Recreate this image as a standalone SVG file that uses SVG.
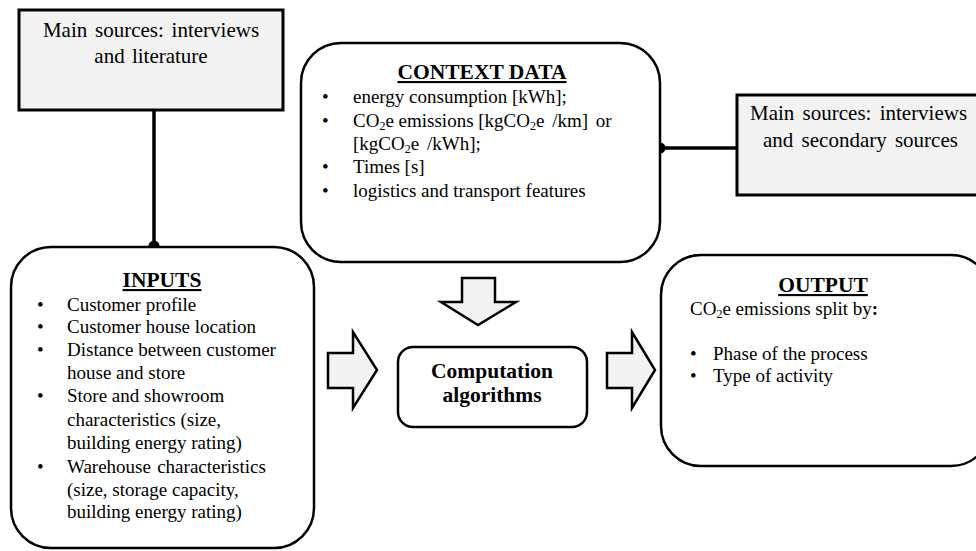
<svg xmlns="http://www.w3.org/2000/svg" width="976" height="551" viewBox="0 0 976 551" font-family="'Liberation Serif', 'DejaVu Serif', serif">
<style>
text{font-family:'Liberation Serif','DejaVu Serif',serif;font-size:19px;fill:#000}
.big{font-size:21px}
.src{fill:#f2f2f2;stroke:#000;stroke-width:3}
.rbox{fill:#fff;stroke:#000;stroke-width:2.5}
.arr{fill:#f2f2f2;stroke:#000;stroke-width:2.5;stroke-linejoin:miter}
.title{font-weight:bold;font-size:21.5px;text-decoration:underline;text-anchor:middle}
.bold{font-weight:bold;font-size:21.5px;text-anchor:middle}
.c{text-anchor:middle}
.line{stroke:#000;stroke-width:3.5;fill:none}
.sub{font-size:12px}
</style>
<g id="connectors">
<line class="line" x1="154" y1="110" x2="154" y2="246"/>
<circle cx="154" cy="246" r="5.5"/>
<line class="line" x1="660" y1="148" x2="738" y2="148"/>
<circle cx="660" cy="148" r="5.5"/>
<path class="arr" d="M328,353 H353 V332 L377,370 L353,408 V388 H328 Z"/>
<path class="arr" d="M462,278 H495 V302 H516 L478,325 L441,302 H462 Z"/>
<path class="arr" d="M607,353 H632 V332 L655,370 L632,408 V388 H607 Z"/>
</g>
<g id="source-literature">
<rect class="src" x="19" y="10" width="264" height="100"/>
<text class="c big" x="151" y="37" word-spacing="2.5">Main sources: interviews</text>
<text class="c big" x="151" y="63" word-spacing="2">and literature</text>
</g>
<g id="source-secondary">
<rect class="src" x="737" y="95" width="260" height="100"/>
<text class="big" x="750" y="120" word-spacing="3">Main sources: interviews</text>
<text class="big" x="763" y="147" word-spacing="3">and secondary sources</text>
</g>
<g id="context-data">
<rect class="rbox" x="301" y="43" width="359" height="219" rx="40" ry="40"/>
<text class="title" x="482" y="79">CONTEXT DATA</text>
<text x="322" y="103">•</text><text x="353" y="103">energy consumption [kWh];</text>
<text x="322" y="127">•</text><text x="353" y="127">CO<tspan class="sub" dy="3">2</tspan><tspan dy="-3">e emissions [kgCO</tspan><tspan class="sub" dy="3">2</tspan><tspan dy="-3" word-spacing="3">e /km] or</tspan></text>
<text x="353" y="150">[kgCO<tspan class="sub" dy="3">2</tspan><tspan dy="-3" word-spacing="3">e /kWh];</tspan></text>
<text x="322" y="173">•</text><text x="353" y="173">Times [s]</text>
<text x="322" y="197">•</text><text x="353" y="197">logistics and transport features</text>
</g>
<g id="inputs">
<rect class="rbox" x="11" y="247" width="303" height="301" rx="40" ry="40"/>
<text class="title" x="162" y="287">INPUTS</text>
<text x="37" y="311">•</text><text x="67" y="311">Customer profile</text>
<text x="37" y="333">•</text><text x="67" y="333">Customer house location</text>
<text x="37" y="356">•</text><text x="67" y="356">Distance between customer</text>
<text x="67" y="379">house and store</text>
<text x="37" y="402">•</text><text x="67" y="402">Store and showroom</text>
<text x="67" y="426">characteristics (size,</text>
<text x="67" y="449">building energy rating)</text>
<text x="37" y="473">•</text><text x="67" y="473" word-spacing="1.5">Warehouse characteristics</text>
<text x="67" y="496">(size, storage capacity,</text>
<text x="67" y="518">building energy rating)</text>
</g>
<g id="computation">
<rect class="rbox" x="398" y="347" width="189" height="80" rx="15" ry="15"/>
<text class="bold" x="492" y="378">Computation</text>
<text class="bold" x="492" y="402">algorithms</text>
</g>
<g id="output">
<rect class="rbox" x="661" y="255" width="330" height="211" rx="40" ry="40"/>
<text class="title" x="823" y="292">OUTPUT</text>
<text x="690" y="315">CO<tspan class="sub" dy="3">2</tspan><tspan dy="-3">e emissions split by</tspan><tspan font-weight="bold">:</tspan></text>
<text x="690" y="360">•</text><text x="713" y="360">Phase of the process</text>
<text x="690" y="382">•</text><text x="713" y="382">Type of activity</text>
</g>
</svg>
